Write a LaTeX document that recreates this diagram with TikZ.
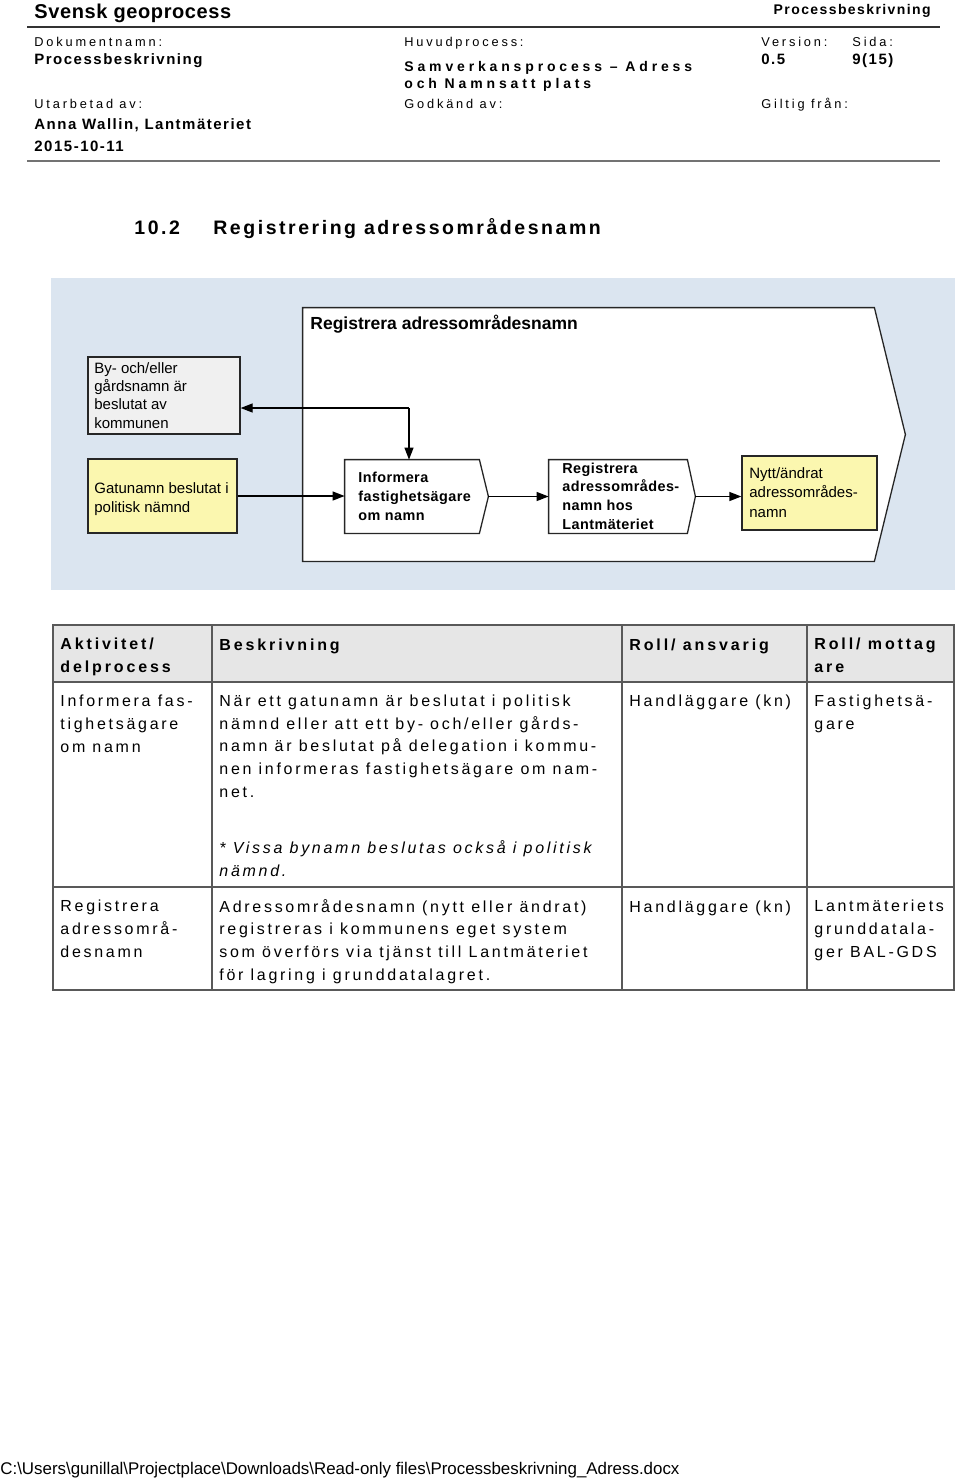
\documentclass[tikz,border=0pt]{standalone}
\usepackage{fontspec}
\setmainfont{Liberation Sans}
\newfontfamily\geofont[LetterSpace=3]{Liberation Sans}
\newfontfamily\docfont[LetterSpace=10]{Liberation Sans}
\newfontfamily\etiqfont[LetterSpace=22]{Liberation Sans}
\newfontfamily\valfont[LetterSpace=10]{Liberation Sans}
\newfontfamily\huvfont[LetterSpace=27.5]{Liberation Sans}
\newfontfamily\titrefont[LetterSpace=13]{Liberation Sans}
\newfontfamily\procfont[LetterSpace=3]{Liberation Sans}
\newfontfamily\tabfont[LetterSpace=17]{Liberation Sans}
\newfontfamily\tabgfont[LetterSpace=18]{Liberation Sans}
\usetikzlibrary{arrows.meta,fit}

\definecolor{fond}{RGB}{219,229,240}
\definecolor{jaune}{RGB}{251,247,175}
\definecolor{grisboite}{RGB}{240,240,240}
\definecolor{gristete}{RGB}{230,230,230}

\newcommand{\fgeo}{\geofont\bfseries\fontsize{10}{12}\selectfont}
\newcommand{\fdoc}{\docfont\bfseries\fontsize{7}{8.5}\selectfont}
\newcommand{\fetiq}{\etiqfont\fontsize{6.4}{8}\selectfont}
\newcommand{\fval}{\valfont\bfseries\fontsize{7.5}{9}\selectfont}
\newcommand{\fhuv}{\huvfont\bfseries\fontsize{7}{8.5}\selectfont}
\newcommand{\ftitre}{\titrefont\bfseries\fontsize{9.75}{12}\selectfont}
\newcommand{\framtitre}{\bfseries\fontsize{8.75}{10.5}\selectfont}
\newcommand{\fboite}{\fontsize{7.5}{9.15}\selectfont}
\newcommand{\fnytt}{\fontsize{7.5}{9.6}\selectfont}
\newcommand{\fproc}{\procfont\bfseries\fontsize{7.2}{9.3}\selectfont}
\newcommand{\ftab}{\tabfont\fontsize{8}{11.3}\selectfont}
\newcommand{\ftabg}{\tabgfont\bfseries\fontsize{8}{11.2}\selectfont}
\newcommand{\fpied}{\fontsize{8.45}{10}\selectfont}
\newcommand{\pointe}[2]{\draw[boite, fill=white] (#1.north west) -- ([xshift=-#2]#1.north east)
	-- (#1.east) -- ([xshift=-#2]#1.south east) -- (#1.south west) -- cycle}

\tikzset{
	txt/.style={inner sep=0pt, anchor=base west, align=left},
	boite/.style={draw=black!85, line width=0.65pt, inner sep=0pt},
	fleche/.style={line width=0.65pt, -{Triangle[length=6pt,width=4.5pt]}},
	filet/.style={draw=black!80, line width=0.75pt},
	tab/.style={draw=black!65, line width=0.75pt}
}

\begin{document}
\begin{tikzpicture}[x=0.5pt, y=-0.5pt]
	\useasboundingbox[fill=white] (0,0) rectangle (960,1479);
%En-tete (base = last line)
	\node[txt, font=\fgeo] (geo) at (34,18) {Svensk geoprocess};
	\node[txt, anchor=base east, font=\fdoc] (docr) at (931,14) {Processbeskrivning};
	\draw[filet] (27,27) -- (940,27);
	\node[txt, font=\fetiq] (ldok) at (34,46) {Dokumentnamn:};
	\node[txt, font=\fval] (vdok) at (34,64) {Processbeskrivning};
	\node[txt, font=\fetiq] (lhuv) at (404,46) {Huvudprocess:};
	\node[txt, font=\fhuv] (vhuv) at (404,88) {Samverkansprocess – Adress\\och Namnsatt plats};
	\node[txt, font=\fetiq] (lver) at (761,46) {Version:};
	\node[txt, font=\fval] (vver) at (761,64) {0.5};
	\node[txt, font=\fetiq] (lsid) at (852,46) {Sida:};
	\node[txt, font=\fval] (vsid) at (852,64) {9(15)};
	\node[txt, font=\fetiq] (lutb) at (34,108) {Utarbetad av:};
	\node[txt, font=\fval] (vutb) at (34,129) {Anna Wallin, Lantmäteriet};
	\node[txt, font=\fval] (vdat) at (34,151) {2015-10-11};
	\node[txt, font=\fetiq] (lgod) at (404,108) {Godkänd av:};
	\node[txt, font=\fetiq] (lgil) at (761,108) {Giltig från:};
	\draw[filet, draw=black!55, line width=1pt] (27,161) -- (940,161);
%Rubrik
	\node[txt, font=\ftitre] (num) at (134,234) {10.2};
	\node[txt, font=\ftitre] (rubrik) at (213,234) {Registrering adressområdesnamn};
%Processen
	\fill[fond] (51,278) rectangle (955,590);
	\node[fit={(303,308) (905,561)}, inner sep=0pt] (ram) {};
	\pointe{ram}{15.5pt};
	\node[txt, font=\framtitre] (ramtxt) at (310,329) {Registrera adressområdesnamn};
%Hendelser
	\node[boite, fill=grisboite, fit={(88,357) (240,434)}] (by) {};
	\node[txt, font=\fboite] (bytxt) at (94,428) {By- och/eller\\gårdsnamn är\\beslutat av\\kommunen};
	\node[boite, fill=jaune, fit={(88,459) (237,533)}] (gatu) {};
	\node[txt, font=\fboite] (gatutxt) at (94,512) {Gatunamn beslutat i\\politisk nämnd};
	\node[boite, fill=jaune, fit={(742,456) (877,530)}] (nytt) {};
	\node[txt, font=\fnytt] (nytttxt) at (749,517) {Nytt/ändrat\\adressområdes-\\namn};
%Aktiviteter
	\node[fit={(345,460) (488,533)}, inner sep=0pt] (inf) {};
	\pointe{inf}{4.5pt};
	\node[txt, font=\fproc] (inftxt) at (358,520) {Informera\\fastighetsägare\\om namn};
	\node[fit={(549,460) (695,533)}, inner sep=0pt] (reg) {};
	\pointe{reg}{4pt};
	\node[txt, font=\fproc] (regtxt) at (562,529) {Registrera\\adressområdes-\\namn hos\\Lantmäteriet};
%Pilar
	\coordinate (knut) at (409,408);
	\draw[fleche] (knut) -- (knut -| by.east);
	\draw[fleche] (knut) -- (knut |- inf.north);
	\draw[fleche] (gatu.east) -- (gatu.east -| inf.west);
	\draw[fleche] (inf.east) -- (reg.west);
	\draw[fleche] (reg.east) -- (reg.east -| nytt.west);
%Tabell
	\fill[gristete] (53,625) rectangle (954,682);
	\draw[tab] (53,625) rectangle (954,990);
	\draw[tab] (53,682) -- (954,682) (53,887) -- (954,887);
	\foreach \x in {212,622,807}
		\draw[tab] (\x,625) -- (\x,990);
	\node[txt, font=\ftabg] (h1) at (60,672) {Aktivitet/\\delprocess};
	\node[txt, font=\ftabg] (h2) at (219,650) {Beskrivning};
	\node[txt, font=\ftabg] (h3) at (629,650) {Roll/ ansvarig};
	\node[txt, font=\ftabg] (h4) at (814,672) {Roll/ mottag\\are};
	\node[txt, font=\ftab] (a1) at (60,752) {Informera fas-\\tighetsägare\\om namn};
	\node[txt, font=\ftab] (b1) at (219,797) {När ett gatunamn är beslutat i politisk\\nämnd eller att ett by- och/eller gårds-\\namn är beslutat på delegation i kommu-\\nen informeras fastighetsägare om nam-\\net.};
	\node[txt, font=\ftab\itshape] (b1not) at (219,876) {* Vissa bynamn beslutas också i politisk\\nämnd.};
	\node[txt, font=\ftab] (c1) at (629,706) {Handläggare (kn)};
	\node[txt, font=\ftab] (d1) at (814,729) {Fastighetsä-\\gare};
	\node[txt, font=\ftab] (a2) at (60,957) {Registrera\\adressområ-\\desnamn};
	\node[txt, font=\ftab] (b2) at (219,980) {Adressområdesnamn (nytt eller ändrat)\\registreras i kommunens eget system\\som överförs via tjänst till Lantmäteriet\\för lagring i grunddatalagret.};
	\node[txt, font=\ftab] (c2) at (629,912) {Handläggare (kn)};
	\node[txt, font=\ftab] (d2) at (814,957) {Lantmäteriets\\grunddatala-\\ger BAL-GDS};
%Sidfot
	\node[txt, font=\fpied] (sokvag) at (0,1474) {C:\textbackslash Users\textbackslash gunillal\textbackslash Projectplace\textbackslash Downloads\textbackslash Read-only files\textbackslash Processbeskrivning\_Adress.docx};
\end{tikzpicture}
\end{document}
